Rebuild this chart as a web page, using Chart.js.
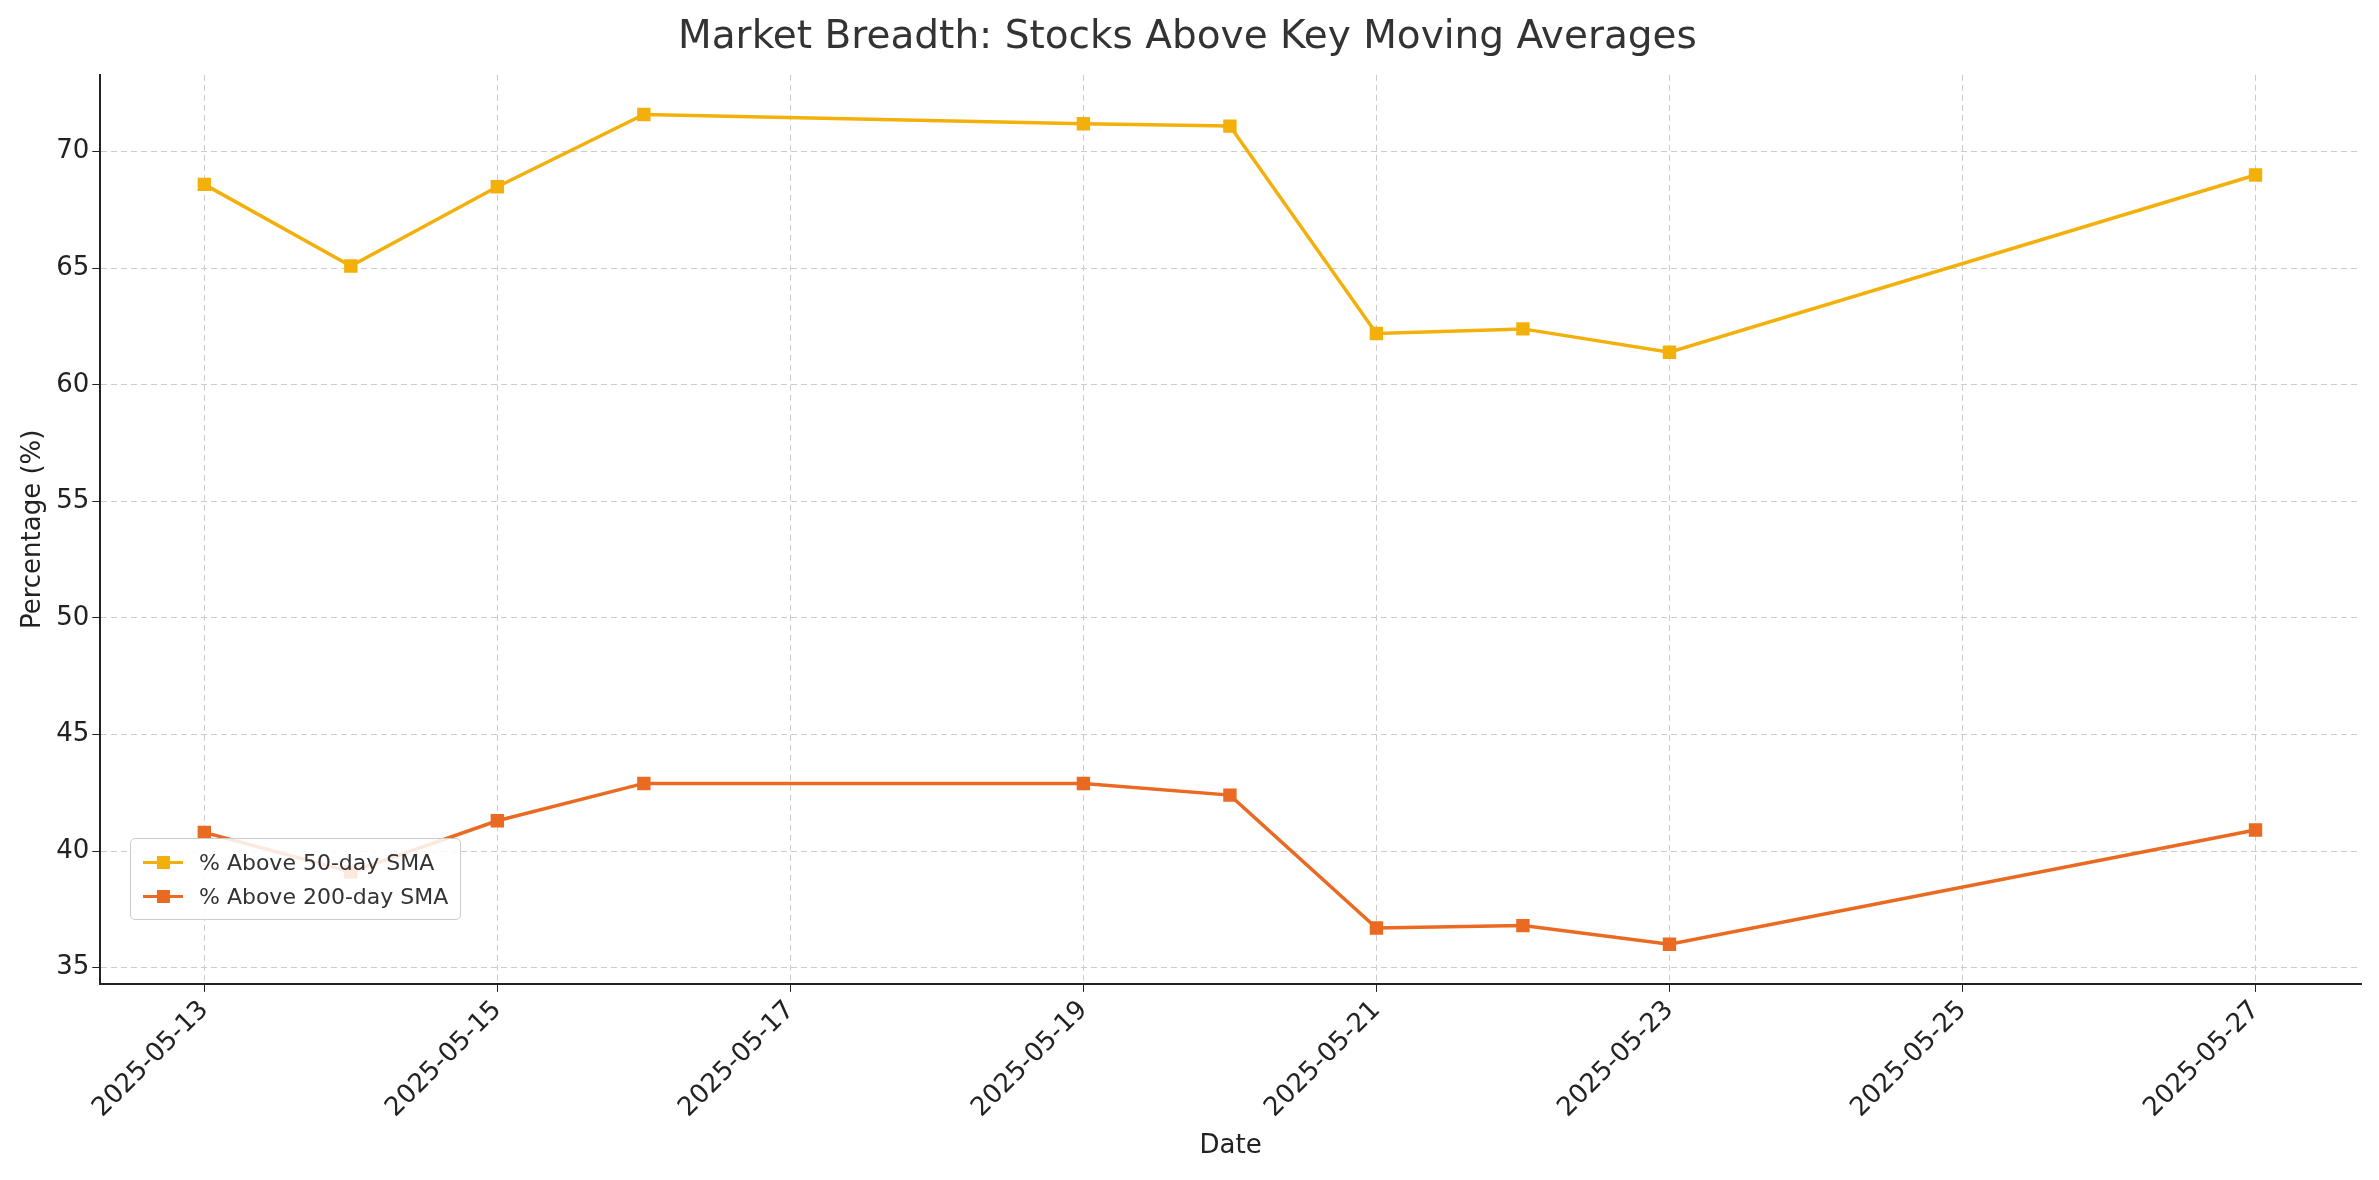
<!DOCTYPE html>
<html><head><meta charset="utf-8">
<script src="https://cdn.jsdelivr.net/npm/chart.js@4"></script>
<style>html,body{margin:0;padding:0;background:#fff}#wrap{position:relative;width:2379px;height:1180px}
#leg{position:absolute;left:130px;top:838px;border:1px solid #ccc;border-radius:5px;background:rgba(255,255,255,0.85);padding:6px 12px;font:22px "DejaVu Sans";color:#333}
.r{display:flex;align-items:center;height:34px}.sw{position:relative;width:40px;height:3px;margin-right:16px}.sw i{position:absolute;left:14px;top:-5px;width:13px;height:13px}
</style></head><body><div id="wrap"><canvas id="c" width="2379" height="1180"></canvas>
<div id="leg"><div class="r"><span class="sw" style="background:#F4B00A"><i style="background:#F4B00A"></i></span>% Above 50-day SMA</div>
<div class="r"><span class="sw" style="background:#EA6A22"><i style="background:#EA6A22"></i></span>% Above 200-day SMA</div></div></div>
<script>
const days=[13,14,15,16,19,20,21,22,23,27];
const above50=[68.6,65.1,68.5,71.6,71.2,71.1,62.2,62.4,61.4,69.0];
const above200=[40.8,39.1,41.3,42.9,42.9,42.4,36.7,36.8,36.0,40.9];
const xTicks=[13,15,17,19,21,23,25,27];
const yTicks=[35,40,45,50,55,60,65,70];
const F="DejaVu Sans";
new Chart(document.getElementById('c'),{type:'line',
data:{datasets:[
{label:'% Above 50-day SMA',data:days.map((d,i)=>({x:d,y:above50[i]})),borderColor:'#F4B00A',backgroundColor:'#F4B00A',borderWidth:3.5,pointStyle:'rect',pointRadius:7,tension:0},
{label:'% Above 200-day SMA',data:days.map((d,i)=>({x:d,y:above200[i]})),borderColor:'#EA6A22',backgroundColor:'#EA6A22',borderWidth:3.5,pointStyle:'rect',pointRadius:7,tension:0}]},
options:{responsive:false,animation:false,devicePixelRatio:1,
layout:{padding:{left:14,right:18,top:0,bottom:14}},
plugins:{legend:{display:false},tooltip:{enabled:false},
title:{display:true,text:'Market Breadth: Stocks Above Key Moving Averages',font:{family:F,size:39,weight:'normal'},color:'#333',padding:{top:14,bottom:14}}},
scales:{
x:{type:'linear',min:12.29,max:27.72,afterBuildTicks:a=>{a.ticks=xTicks.map(v=>({value:v}))},
ticks:{maxRotation:45,minRotation:45,font:{family:F,size:26},color:'#222',callback:v=>'2025-05-'+String(v).padStart(2,'0')},
grid:{color:'#ccc',tickColor:'#222',tickLength:8,tickBorderDash:[]},border:{color:'#222',width:2,dash:[6,4]},
title:{display:true,text:'Date',font:{family:F,size:26},color:'#222'}},
y:{min:34.3,max:73.3,afterBuildTicks:a=>{a.ticks=yTicks.map(v=>({value:v}))},
ticks:{font:{family:F,size:26},color:'#222'},
grid:{color:'#ccc',tickColor:'#222',tickLength:8,tickBorderDash:[]},border:{color:'#222',width:2,dash:[6,4]},
title:{display:true,text:'Percentage (%)',font:{family:F,size:26},color:'#222'}}}}});
</script></body></html>
